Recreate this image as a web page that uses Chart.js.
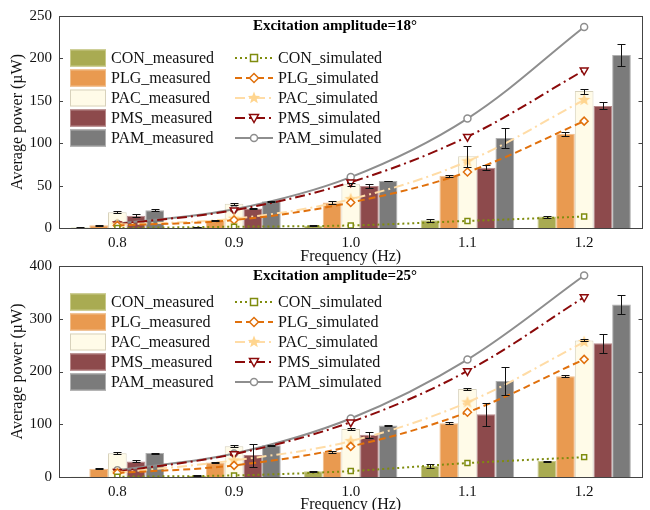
<!DOCTYPE html>
<html>
<head>
<meta charset="utf-8">
<script src="https://cdn.jsdelivr.net/npm/chart.js@4.4.1/dist/chart.umd.min.js"></script>
<style>
  html, body { margin: 0; padding: 0; background: #fff; overflow: hidden; }
  #wrap { position: relative; width: 650px; height: 510px; }
  #wrap canvas { position: absolute; left: 0; }
</style>
</head>
<body>
<div id="wrap">
  <canvas id="c18" width="650" height="266" style="top:0"></canvas>
  <canvas id="c25" width="650" height="264" style="top:250px"></canvas>
</div>
<script>
// ---------- datos ----------
const freqs = ['0.8', '0.9', '1.0', '1.1', '1.2'];
const names = ['CON', 'PLG', 'PAC', 'PMS', 'PAM'];

// amplitud 18°: medidos (media y error)
const con18 = [0.5, 1, 2.7, 9, 13.5];
const plg18 = [3.2, 9, 30, 61.5, 111];
const pac18 = [18.5, 28.7, 51.5, 84.5, 161.5];
const pms18 = [14.5, 23, 49.5, 71, 144];
const pam18 = [21, 31.4, 55.5, 106, 204];
const con18Err = [0.3, 0.3, 0.5, 1.5, 1.2];
const plg18Err = [0.5, 0.5, 1.5, 1, 2];
const pac18Err = [1, 1, 1.5, 12, 3];
const pms18Err = [2, 1, 2, 3, 4];
const pam18Err = [1, 0.5, 0.5, 12, 13];
// amplitud 18°: simulados
const conSim18 = [0, 1.5, 3, 8.3, 13.5];
const plgSim18 = [3, 9.4, 30, 66, 126];
const pacSim18 = [4, 11, 34, 78.6, 151];
const pmsSim18 = [4.5, 21, 54, 107.7, 186];
const pamSim18 = [5, 22, 60, 129, 237];

// amplitud 25°: medidos
const con25 = [0.5, 2.5, 10.7, 21, 30.2];
const plg25 = [15.7, 27.7, 48, 102, 191];
const pac25 = [45, 58.5, 91, 167, 259];
const pms25 = [29.6, 41.5, 80, 119, 253.5];
const pam25 = [45.3, 60.4, 97.5, 182, 327];
const con25Err = [0.3, 0.5, 1, 3, 1];
const plg25Err = [1, 1, 2, 1.5, 2];
const pac25Err = [1.5, 1.5, 2, 2.5, 2];
const pms25Err = [2, 22, 6, 22, 18];
const pam25Err = [1, 1, 1, 26, 18];
// amplitud 25°: simulados
const conSim25 = [0.5, 3, 11.3, 26.4, 37.7];
const plgSim25 = [7.5, 22, 58, 122.7, 223];
const pacSim25 = [8, 31.5, 68, 141.5, 256];
const pmsSim25 = [10, 43.4, 104, 201, 341];
const pamSim25 = [12.6, 44.7, 111, 222.6, 382];

// ---------- estilos ----------
const SERIF = "'Liberation Serif', 'Times New Roman', serif";
const barFill   = ['#a9ab52', '#e99a50', '#fffbe8', '#8d4a4c', '#7b7b7b'];
const barBorder = ['#c9ca8a', '#f0bd8a', '#d8d2bc', '#b88a8a', '#b0b0b0'];
const lineColor = ['#7f8c0e', '#e0700c', '#ffdca6', '#8b0a0a', '#8e8e8e'];
const lineDash  = [[2, 3], [7, 4], [10, 4, 2, 4], [10, 4, 2, 4], []];

// estrella rellena para PAC
function starImage(color) {
  const c = document.createElement('canvas');
  c.width = 14; c.height = 14;
  const g = c.getContext('2d');
  g.fillStyle = color;
  g.beginPath();
  for (let i = 0; i < 10; i++) {
    const r = i % 2 ? 2.8 : 6.5;
    const a = -Math.PI / 2 + i * Math.PI / 5;
    g.lineTo(7 + r * Math.cos(a), 7 + r * Math.sin(a));
  }
  g.closePath();
  g.fill();
  return c;
}
const STAR = starImage('#ffd58f');

const pointStyles = ['rect', 'rectRot', STAR, 'triangle', 'circle'];
const pointRot    = [0, 0, 0, 180, 0];
const pointRad    = [3.5, 4, 6, 4.5, 3.5];

// marcador para la leyenda
function drawMarker(ctx, i, x, y) {
  ctx.save();
  ctx.setLineDash([]);
  ctx.strokeStyle = lineColor[i];
  ctx.fillStyle = '#fff';
  ctx.lineWidth = 1.5;
  ctx.beginPath();
  if (i === 0) {
    ctx.rect(x - 3.5, y - 3.5, 7, 7);
  } else if (i === 1) {
    ctx.moveTo(x, y - 4.5); ctx.lineTo(x + 4.5, y); ctx.lineTo(x, y + 4.5); ctx.lineTo(x - 4.5, y); ctx.closePath();
  } else if (i === 2) {
    ctx.drawImage(STAR, x - 7, y - 7);
    ctx.restore();
    return;
  } else if (i === 3) {
    ctx.moveTo(x - 4.5, y - 3.5); ctx.lineTo(x + 4.5, y - 3.5); ctx.lineTo(x, y + 4.5); ctx.closePath();
  } else {
    ctx.arc(x, y, 3.5, 0, Math.PI * 2);
  }
  ctx.fill();
  ctx.stroke();
  ctx.restore();
}

// ---------- plugins ----------
const errorBars = {
  id: 'errorBars',
  afterDatasetsDraw(chart, args, opts) {
    const { ctx } = chart;
    const y = chart.scales.y;
    ctx.save();
    ctx.strokeStyle = '#111';
    ctx.lineWidth = 1;
    opts.errors.forEach((errs, i) => {
      const meta = chart.getDatasetMeta(i);
      const vals = chart.data.datasets[i].data;
      meta.data.forEach((bar, j) => {
        const top = Math.round(y.getPixelForValue(vals[j] + errs[j])) + 0.5;
        const bot = Math.round(y.getPixelForValue(Math.max(0, vals[j] - errs[j]))) + 0.5;
        const x = Math.round(bar.x) + 0.5;
        ctx.beginPath();
        ctx.moveTo(x, top); ctx.lineTo(x, bot);
        ctx.moveTo(x - 4, top); ctx.lineTo(x + 4, top);
        ctx.moveTo(x - 4, bot); ctx.lineTo(x + 4, bot);
        ctx.stroke();
      });
    });
    ctx.restore();
  }
};

const frameBox = {
  id: 'frameBox',
  afterDraw(chart) {
    const { ctx, chartArea: a } = chart;
    const y = chart.scales.y;
    ctx.save();
    ctx.strokeStyle = '#444';
    ctx.lineWidth = 1;
    ctx.strokeRect(Math.round(a.left) + 0.5, Math.round(a.top) + 0.5,
                   Math.round(a.right - a.left) - 1, Math.round(a.bottom - a.top));
    ctx.beginPath();
    y.ticks.forEach(t => {
      const py = Math.round(y.getPixelForValue(t.value)) + 0.5;
      ctx.moveTo(a.left, py); ctx.lineTo(a.left + 4, py);
      ctx.moveTo(a.right - 4, py); ctx.lineTo(a.right, py);
    });
    ctx.stroke();
    ctx.restore();
  }
};

const insideLegend = {
  id: 'insideLegend',
  afterDraw(chart, args, opts) {
    const { ctx } = chart;
    ctx.save();
    ctx.fillStyle = '#000';
    ctx.font = 'bold 15px ' + SERIF;
    ctx.textAlign = 'center';
    ctx.textBaseline = 'middle';
    ctx.fillText(opts.title, 335, opts.titleY);

    ctx.font = '16px ' + SERIF;
    ctx.textAlign = 'left';
    names.forEach((n, i) => {
      const ry = opts.rowY + i * 20;
      // medido
      ctx.fillStyle = barFill[i];
      ctx.fillRect(70, ry - 8.5, 36, 17);
      ctx.strokeStyle = barBorder[i];
      ctx.lineWidth = 1;
      ctx.strokeRect(70.5, ry - 8, 35, 16);
      ctx.fillStyle = '#111';
      ctx.fillText(n + '_measured', 111, ry + 1);
      // simulado
      ctx.strokeStyle = lineColor[i];
      ctx.lineWidth = 2;
      ctx.setLineDash(lineDash[i]);
      ctx.beginPath();
      ctx.moveTo(235, ry); ctx.lineTo(273, ry);
      ctx.stroke();
      ctx.setLineDash([]);
      drawMarker(ctx, i, 254, ry);
      ctx.fillStyle = '#111';
      ctx.fillText(n + '_simulated', 278, ry + 1);
    });
    ctx.restore();
  }
};

// ---------- constructor ----------
function buildChart(id, cfg) {
  const bars = cfg.measured.map((vals, i) => ({
    type: 'bar',
    label: names[i] + '_measured',
    data: vals,
    backgroundColor: barFill[i],
    borderColor: barBorder[i],
    borderWidth: 1,
    categoryPercentage: 0.8,
    barPercentage: 1.0,
    order: 2
  }));
  const lines = cfg.simulated.map((vals, i) => ({
    type: 'line',
    label: names[i] + '_simulated',
    data: vals,
    borderColor: lineColor[i],
    borderWidth: 2,
    borderDash: lineDash[i],
    pointStyle: pointStyles[i],
    pointRotation: pointRot[i],
    pointRadius: pointRad[i],
    pointBorderWidth: 1.5,
    pointBorderColor: lineColor[i],
    pointBackgroundColor: '#fff',
    tension: 0.35,
    fill: false,
    order: 1
  }));

  return new Chart(document.getElementById(id), {
    data: { labels: freqs, datasets: bars.concat(lines) },
    options: {
      responsive: false,
      animation: false,
      layout: { padding: { top: cfg.padTop, right: 2, left: 0, bottom: 0 } },
      plugins: {
        legend: { display: false },
        tooltip: { enabled: false },
        errorBars: { errors: cfg.errors },
        insideLegend: { title: cfg.title, titleY: cfg.titleY, rowY: cfg.rowY }
      },
      scales: {
        x: {
          type: 'category',
          offset: true,
          grid: { display: false, drawTicks: false },
          border: { display: false },
          ticks: { color: '#111', font: { family: SERIF, size: 15 }, padding: 6, maxRotation: 0 },
          title: { display: true, text: 'Frequency (Hz)', color: '#111',
                   font: { family: SERIF, size: 16 }, padding: { top: 0, bottom: 0 } },
          afterFit: (s) => { s.height = cfg.xHeight; }
        },
        y: {
          min: 0,
          max: cfg.yMax,
          grid: { display: false, drawTicks: false },
          border: { display: false },
          ticks: { stepSize: cfg.step, color: '#111', font: { family: SERIF, size: 15 }, padding: 7 },
          title: { display: true, text: 'Average power (µW)', color: '#111',
                   font: { family: SERIF, size: 16 }, padding: { top: 8, bottom: 0 } },
          afterFit: (s) => { s.width = 59; }
        }
      }
    },
    plugins: [errorBars, frameBox, insideLegend]
  });
}

document.addEventListener('DOMContentLoaded', () => {
  buildChart('c18', {
    measured: [con18, plg18, pac18, pms18, pam18],
    errors: [con18Err, plg18Err, pac18Err, pms18Err, pam18Err],
    simulated: [conSim18, plgSim18, pacSim18, pmsSim18, pamSim18],
    yMax: 250, step: 50,
    padTop: 16, xHeight: 38,
    title: 'Excitation amplitude=18°', titleY: 26, rowY: 58
  });
  buildChart('c25', {
    measured: [con25, plg25, pac25, pms25, pam25],
    errors: [con25Err, plg25Err, pac25Err, pms25Err, pam25Err],
    simulated: [conSim25, plgSim25, pacSim25, pmsSim25, pamSim25],
    yMax: 400, step: 100,
    padTop: 15, xHeight: 37,
    title: 'Excitation amplitude=25°', titleY: 26, rowY: 52
  });
});
</script>
</body>
</html>
